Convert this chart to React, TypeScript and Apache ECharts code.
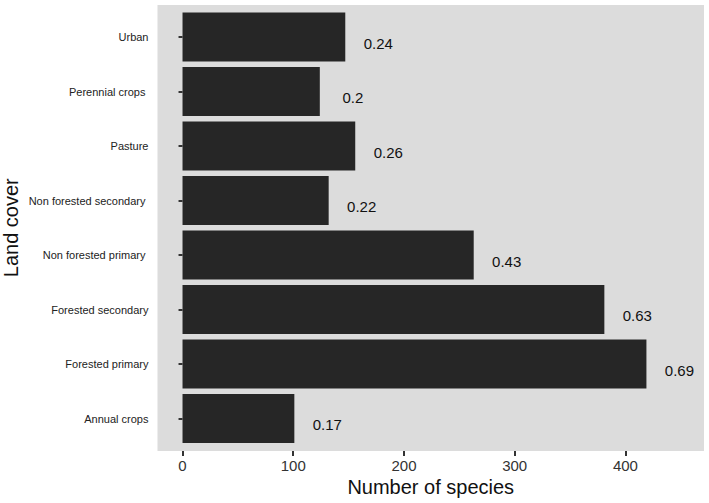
import React, { useEffect, useRef } from "react";
import * as echarts from "echarts";

const categories = [
  "Annual crops",
  "Forested primary",
  "Forested secondary",
  "Non forested primary ",
  "Non forested secondary ",
  "Pasture",
  "Perennial crops ",
  "Urban",
];
const speciesCounts = [101, 419, 381, 263, 132, 156, 124, 147];
const proportionLabels = ["0.17", "0.69", "0.63", "0.43", "0.22", "0.26", "0.2", "0.24"];
const xTicks = [0, 100, 200, 300, 400];

const FONT = "'Liberation Sans', Arial, sans-serif";

export default function App() {
  const ref = useRef<HTMLDivElement>(null);
  useEffect(() => {
    if (!ref.current) return;
    const chart = echarts.init(ref.current, undefined, { renderer: "svg" });
    chart.setOption({
      animation: false,
      backgroundColor: "#ffffff",
      graphic: [
        {
          type: "rect",
          z: -10,
          shape: { x: 157.5, y: 5, width: 546.5, height: 446 },
          style: { fill: "#dcdcdc" },
          silent: true,
        },
      ],
      grid: {
        left: 157.5,
        right: 5,
        top: 9.75,
        bottom: 57.25,
        containLabel: false,
        outerBoundsMode: "none",
      },
      xAxis: {
        type: "value",
        min: -22.6,
        max: 471,
        offset: 5.25,
        splitLine: { show: false },
        axisLine: { show: false },
        axisTick: {
          show: true,
          length: 5,
          customValues: xTicks,
          lineStyle: { color: "#333333", width: 2 },
        },
        axisLabel: {
          customValues: xTicks,
          margin: 7,
          fontSize: 15,
          color: "#333333",
          fontFamily: FONT,
        },
        name: "Number of species",
        nameLocation: "middle",
        nameGap: 26,
        nameMoveOverlap: false,
        nameTextStyle: { fontSize: 20, color: "#111111", fontFamily: FONT },
      },
      yAxis: {
        type: "category",
        data: categories,
        axisLine: { show: false },
        axisTick: {
          show: true,
          alignWithLabel: true,
          length: 4,
          lineStyle: { color: "#333333", width: 2 },
        },
        axisLabel: {
          margin: 9,
          fontSize: 11,
          color: "#222222",
          fontFamily: FONT,
        },
        name: "Land cover",
        nameLocation: "middle",
        nameGap: 137,
        nameMoveOverlap: false,
        nameTextStyle: { fontSize: 20, color: "#111111", fontFamily: FONT },
      },
      series: [
        {
          type: "bar",
          data: speciesCounts,
          barWidth: "90%",
          itemStyle: { color: "#262626" },
          label: {
            show: true,
            position: "right",
            distance: 33,
            align: "center",
            offset: [0, 6],
            fontSize: 15,
            color: "#111111",
            fontFamily: FONT,
            formatter: (p: any) => proportionLabels[p.dataIndex],
          },
        },
      ],
    });
    return () => chart.dispose();
  }, []);
  return (
    <div
      ref={ref}
      style={{ position: "fixed", left: 0, top: 0, width: 709, height: 503 }}
    />
  );
}
